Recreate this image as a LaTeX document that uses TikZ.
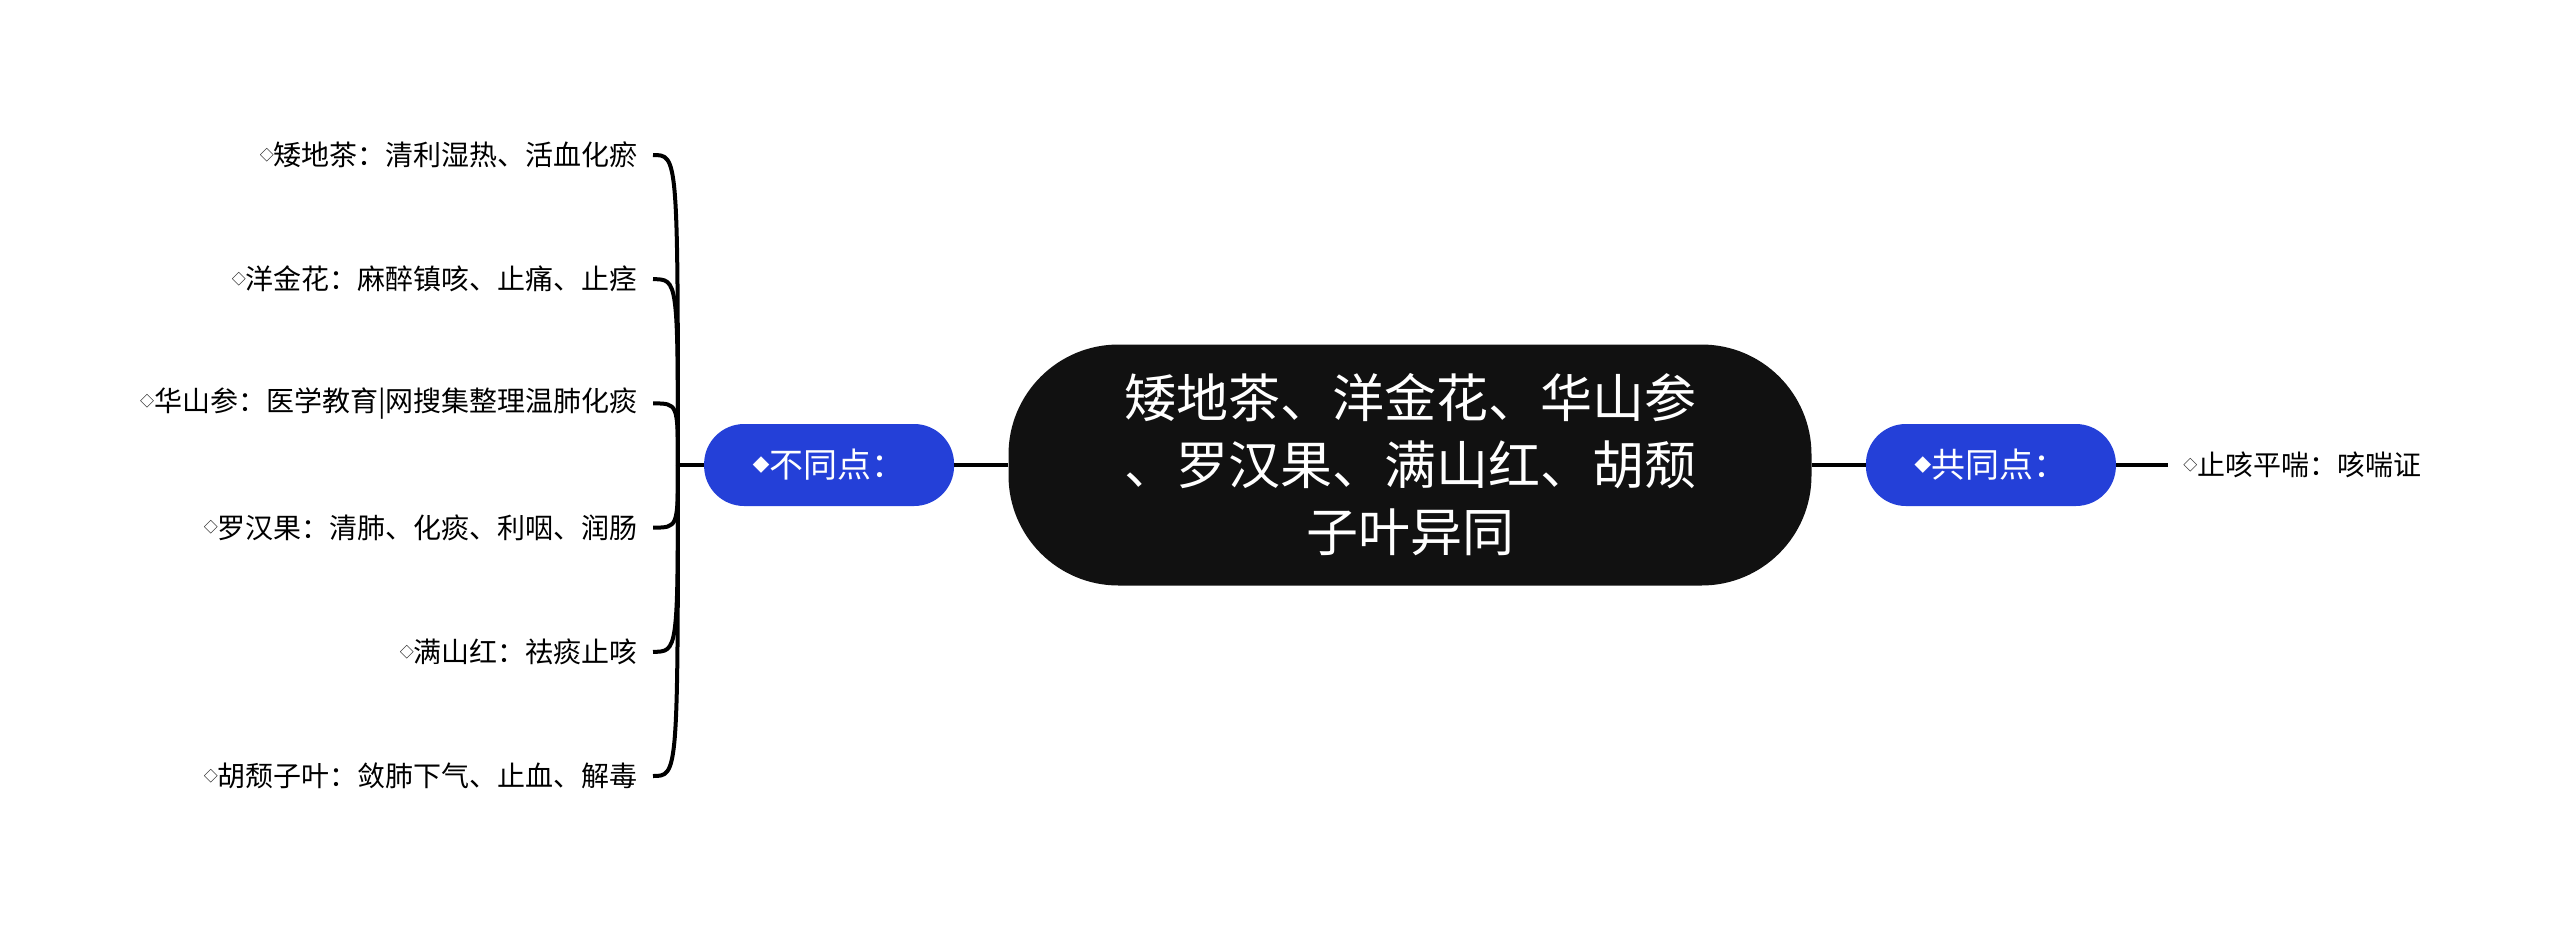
\documentclass[tikz,border=0pt]{standalone}
\usepackage{fontspec}
\usepackage{graphicx}
\setmainfont{Noto Sans CJK SC}
\usetikzlibrary{positioning}

\definecolor{topicblue}{HTML}{2440D8}
\definecolor{mainblack}{HTML}{111111}

% small diamond bullets
\newcommand{\sdia}[1]{\raisebox{0.19em}{\scalebox{0.5}{#1}}}

\tikzset{
  main/.style={fill=mainblack, text=white, rounded corners=110pt,
    minimum width=803pt, minimum height=241pt, align=center,
    font=\fontsize{52}{67}\selectfont},
  topic/.style={fill=topicblue, text=white, rounded corners=40pt,
    minimum width=250pt, minimum height=82pt,
    font=\fontsize{34}{40}\selectfont},
  leaf/.style={font=\fontsize{28}{32}\selectfont, inner xsep=15pt},
  link/.style={line width=4pt}
}

\begin{document}
\begin{tikzpicture}[x=1pt,y=-1pt]
    \useasboundingbox (0,0) rectangle (2560,930);
    \node[main] (root) at (1410,465) {矮地茶、洋金花、华山参\\、罗汉果、满山红、胡颓\\子叶异同};
    \node[topic, left=54pt of root] (diff) {\sdia{◆}不同点：};
    \node[topic, right=54pt of root] (same) {\sdia{◆}共同点：};
    \node[leaf, right=52pt of same] (s1) {\sdia{◇}止咳平喘：咳喘证};
    \coordinate[left=26pt of diff] (j);
    \draw[link] (root) -- (diff);
    \draw[link] (root) -- (same);
    \draw[link] (same) -- (s1);
    \draw[link] (diff) -- (j);
    % left branch
    \foreach \txt [count=\i] in {矮地茶：清利湿热、活血化瘀, 洋金花：麻醉镇咳、止痛、止痉,
        华山参：医学教育|网搜集整理温肺化痰, 罗汉果：清肺、化痰、利咽、润肠,
        满山红：祛痰止咳, 胡颓子叶：敛肺下气、止血、解毒} {
      \node[leaf, anchor=east] (l\i) at (653, {155+124.2*(\i-1)}) {\sdia{◇}\txt};
      \draw[link] (j) .. controls (j |- l\i.east) and (j |- l\i.east) .. (l\i.east);
    }
\end{tikzpicture}
\end{document}
